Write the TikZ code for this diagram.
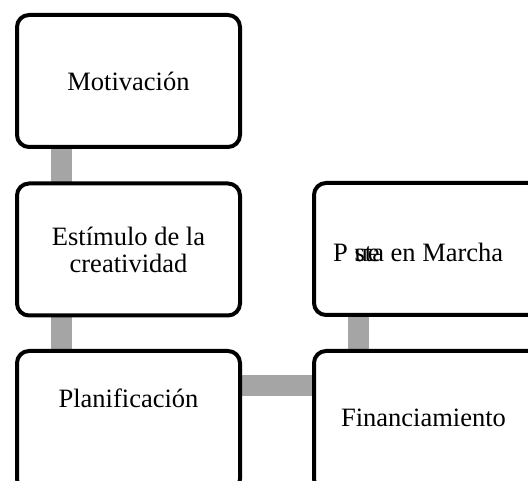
\documentclass[tikz,border=0pt]{standalone}
\usepackage{fontspec}
\setmainfont{Liberation Serif}
\usetikzlibrary{calc}
\begin{document}
\begin{tikzpicture}[x=1pt,y=1pt,
  stepbox/.style={draw=black, line width=4pt, rounded corners=12pt, fill=white,
    minimum width=223pt, minimum height=132pt, inner sep=0pt, align=center,
    font=\fontsize{26.5}{27}\selectfont},
  widebox/.style={stepbox, minimum width=240pt},
  tallbox/.style={minimum height=140pt},
  bar/.style={draw={rgb,255:red,165;green,165;blue,165}, line width=21pt},
  lbl/.style={inner sep=0pt, align=center, font=\fontsize{26.5}{27}\selectfont}]
\useasboundingbox (0,0) rectangle (528,480);
\clip (0,0) rectangle (528,480);
% coordinates for box centres
\coordinate (c1) at (128.5,399);
\coordinate (c2) at (128.5,230.5);
\coordinate (c3) at (128.5,59);
\coordinate (c4) at (434,231);
\coordinate (c5) at (434,59);
% connectors (behind boxes)
\coordinate (a1) at ($(c1)+(-67,-60)$);
\coordinate (a2) at ($(c2)+(-67,60)$);
\coordinate (a3) at ($(c2)+(-67,-60)$);
\coordinate (a4) at ($(c3)+(-67,60)$);
\coordinate (h1) at ($(c3)+(100,35.5)$);
\coordinate (h2) at ($(c5)+(-108,35.5)$);
\coordinate (a5) at ($(c4)+(-75.5,-60)$);
\coordinate (a6) at ($(c5)+(-75.5,60)$);
\draw[bar] (a1) -- (a2);
\draw[bar] (a3) -- (a4);
\draw[bar] (h1) -- (h2);
\draw[bar] (a5) -- (a6);
% boxes
\node[stepbox] (b1) at (c1) {Motivación};
\node[stepbox] (b2) at (c2) {Estímulo de la\\creatividad};
\node[stepbox, tallbox] (b3) at (c3) {};
\node[lbl] (t3) at (128.5,82) {Planificación};
\node[widebox] (b4) at (c4) {};
\node[lbl, anchor=west] (t4) at (333,228) {P \rlap{ue}sta en Marcha};
\node[widebox, tallbox] (b5) at (c5) {};
\node[lbl] (t5) at (423.5,62) {Financiamiento};
\end{tikzpicture}
\end{document}
